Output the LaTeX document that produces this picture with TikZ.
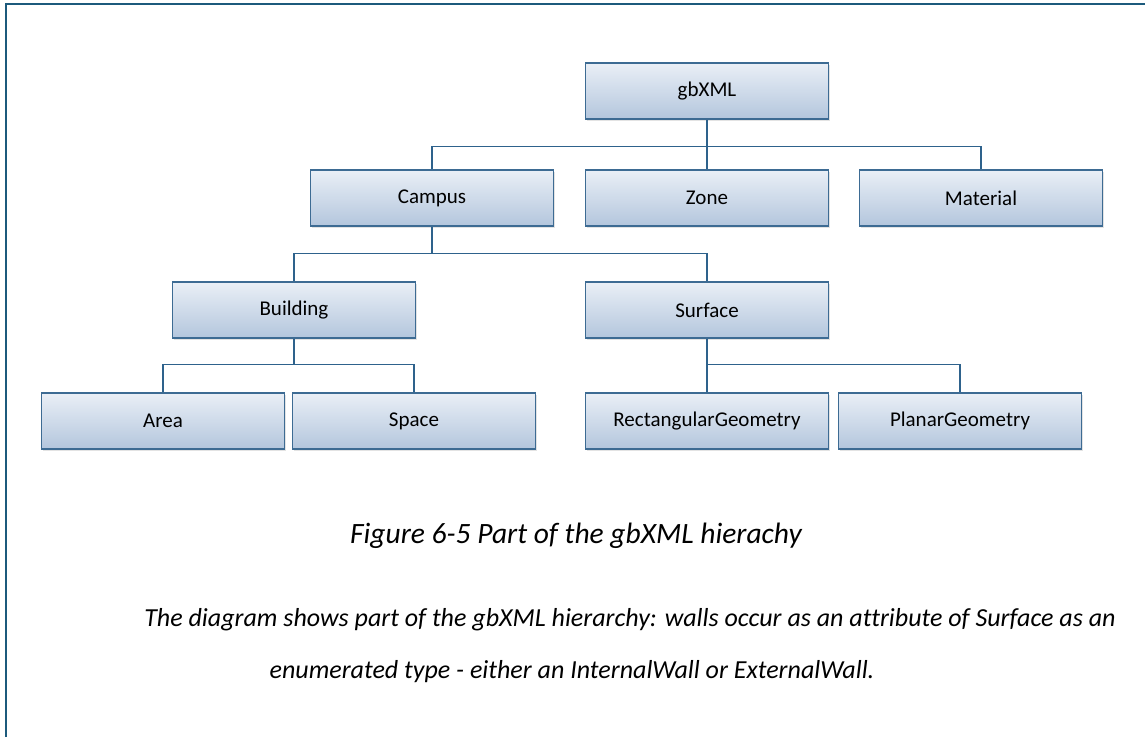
\documentclass[tikz,border=0pt]{standalone}
\usepackage{fontspec}
\setmainfont{Carlito}[Ligatures=NoCommon]
\usepackage{tikz}
\usetikzlibrary{shadows}
\definecolor{XmlEdge}{HTML}{3D6B93}
\definecolor{XmlLink}{HTML}{2E628C}
\definecolor{XmlTop}{HTML}{EAEFF6}
\definecolor{XmlBottom}{HTML}{B3C6DD}
\definecolor{XmlFrame}{HTML}{1C5A7C}
\tikzset{
  classbox/.style={draw=XmlEdge,line width=1.4pt,top color=XmlTop,bottom color=XmlBottom,
    minimum width=243pt,minimum height=56pt,inner sep=0pt,
    font=\fontsize{21}{24}\selectfont,
    drop shadow={opacity=0.22,shadow xshift=1.5pt,shadow yshift=-2pt}},
  link/.style={draw=XmlLink,line width=1.4pt},
  frame/.style={draw=XmlFrame,line width=2.2pt},
  caption/.style={font=\fontsize{29.5}{32}\selectfont\itshape,anchor=center},
  descline/.style={font=\fontsize{26}{29}\selectfont\itshape,anchor=center}
}
\begin{document}
\begin{tikzpicture}[x=1pt,y=-1pt]
  \useasboundingbox (0,0) rectangle (1145,737);
  \draw[frame] (6,737) |- (1145,4);

  % tree of gbXML elements
  \node[classbox] (gbxml) at (707,91) {gbXML};
  \node[classbox] (campus) at (432,198) {Campus};
  \node[classbox] (zone) at (707,198) {Zone};
  \node[classbox] (material) at (981,198) {Material};
  \node[classbox] (building) at (294,310) {Building};
  \node[classbox] (surface) at (707,310) {Surface};
  \node[classbox] (area) at (163,421) {Area};
  \node[classbox] (space) at (414,421) {Space};
  \node[classbox] (rectgeom) at (707,421) {RectangularGeometry};
  \node[classbox] (planargeom) at (960,421) {PlanarGeometry};

  \draw[link] (gbxml.south) -- (zone.north);
  \draw[link] (campus.north) -- ++(0,-23) -| (material.north);
  \draw[link] (building.north) -- ++(0,-28) coordinate (campusbus) -| (surface.north);
  \draw[link] (campus.south) -- (campus.south |- campusbus);
  \draw[link] (area.north) -- ++(0,-28) coordinate (buildingbus) -| (space.north);
  \draw[link] (building.south) -- (building.south |- buildingbus);
  \draw[link] (surface.south) -- (rectgeom.north);
  \draw[link] (rectgeom.north) -- ++(0,-28) -| (planargeom.north);

  % caption and description
  \node[caption] (figcap) at (576,536) {Figure 6-5 Part of the gbXML hierachy};
  \node[descline] (descone) at (630,620) {The diagram shows part of the gbXML hierarchy: walls occur as an attribute of Surface as an};
  \node[descline] (desctwo) at (572,672) {enumerated type - either an InternalWall or ExternalWall.};
\end{tikzpicture}
\end{document}
